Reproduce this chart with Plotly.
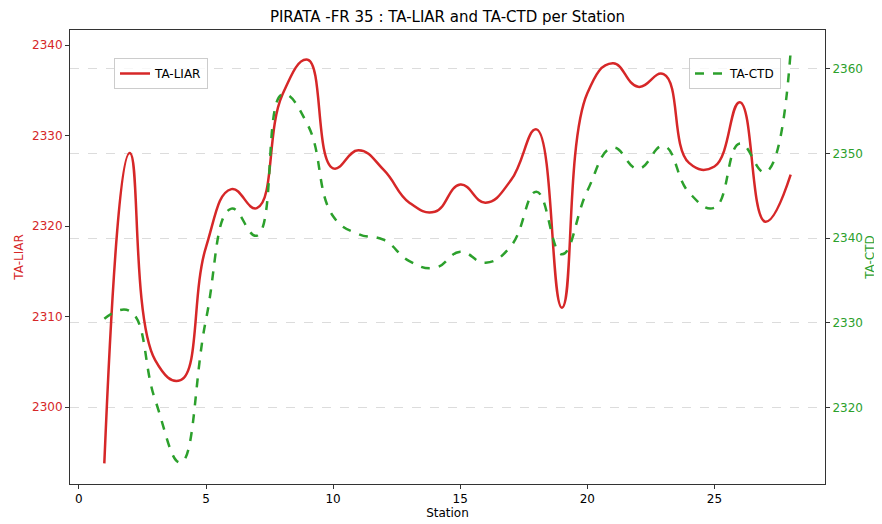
import plotly.graph_objects as go

stations = list(range(1, 29))
ta_liar = [2293.8, 2328.1, 2305.2, 2303.0, 2317.7, 2324.1, 2322.0, 2334.5, 2338.4, 2326.4,
           2328.4, 2326.2, 2322.6, 2321.6, 2324.6, 2322.6, 2325.1, 2330.7, 2311.0, 2334.7,
           2338.0, 2335.4, 2336.8, 2327.0, 2326.6, 2333.7, 2320.5, 2325.7]
ta_ctd = [2330.5, 2331.4, 2320.9, 2313.5, 2330.4, 2343.5, 2340.3, 2357.0, 2353.4, 2342.6,
          2340.5, 2339.8, 2337.3, 2336.5, 2338.4, 2337.1, 2339.1, 2345.5, 2338.1, 2345.6,
          2350.7, 2348.2, 2350.9, 2345.4, 2343.6, 2351.2, 2347.8, 2362.1]

RED = "#d62728"
GREEN = "#2ca02c"
FONT = "DejaVu Sans"

# page has an 8px body margin: figure is sized so the plot lands where the reference has it
W, H = 874, 516
L, R, T, B = 62, 57, 22, 40
PW, PH = W - L - R, H - T - B

fig = go.Figure()
fig.add_trace(go.Scatter(x=stations, y=ta_liar, mode="lines", name="TA-LIAR",
                         line=dict(color=RED, width=2.5, shape="spline", smoothing=1.3),
                         yaxis="y", legend="legend", showlegend=True))
fig.add_trace(go.Scatter(x=stations, y=ta_ctd, mode="lines", name="TA-CTD",
                         line=dict(color=GREEN, width=2.5, dash="dash", shape="spline", smoothing=1.3),
                         yaxis="y2", legend="legend2", showlegend=True))

fig.update_layout(
    width=W, height=H,
    showlegend=True,
    margin=dict(l=L, r=R, t=T, b=B, autoexpand=False),
    paper_bgcolor="white", plot_bgcolor="white",
    font=dict(family=FONT, size=12, color="black"),
    title=dict(text="PIRATA -FR 35 : TA-LIAR and TA-CTD per Station",
               x=(L + PW / 2) / W, xanchor="center", y=1 - 9 / H, yanchor="middle",
               font=dict(size=15, color="black")),
    xaxis=dict(range=[-0.35, 29.35], tick0=0, dtick=5, showgrid=False, zeroline=False,
               showline=True, linecolor="#333", linewidth=1, mirror=True, automargin=False,
               ticks="outside", ticklen=4, tickcolor="#333",
               title=dict(text="Station", standoff=2, font=dict(size=12))),
    yaxis=dict(range=[2291.52, 2341.68], tick0=2300, dtick=10, showgrid=False, zeroline=False,
               showline=True, linecolor="#333", linewidth=1, automargin=False,
               ticks="outside", ticklen=4, tickcolor="#333",
               tickfont=dict(color=RED, size=12),
               title=dict(text="TA-LIAR", font=dict(color=RED, size=12), standoff=5)),
    yaxis2=dict(range=[2310.97, 2364.6], tick0=2320, dtick=10, overlaying="y", side="right",
                showgrid=True, gridcolor="#dcdcdc", griddash="dash", gridwidth=1, zeroline=False,
                showline=True, linecolor="#333", linewidth=1, automargin=False,
                ticks="outside", ticklen=4, tickcolor="#333",
                tickfont=dict(color=GREEN, size=12),
                title=dict(text="TA-CTD", font=dict(color=GREEN, size=12), standoff=2)),
    legend=dict(x=(106 - L) / PW, y=(H - B - 50) / PH, xanchor="left", yanchor="top",
                bgcolor="rgba(255,255,255,0.8)", bordercolor="#cccccc", borderwidth=1,
                font=dict(size=12), visible=True),
    legend2=dict(x=(773 - L) / PW, y=(H - B - 50) / PH, xanchor="right", yanchor="top",
                 bgcolor="rgba(255,255,255,0.8)", bordercolor="#cccccc", borderwidth=1,
                 font=dict(size=12), visible=True),
)

fig.write_html("out.html")
